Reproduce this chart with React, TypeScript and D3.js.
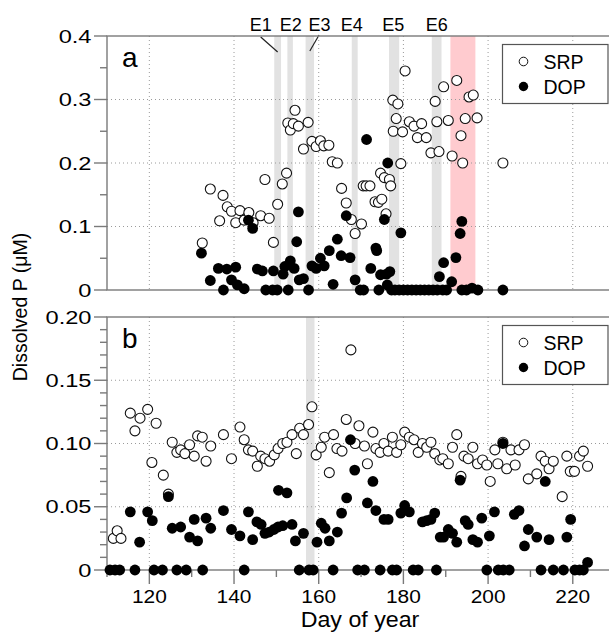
import React from 'react';
import * as d3 from 'd3';

// panel a: [day of year, µM]
const srpA: [number, number][] = [
  [132.5, 0.074], [134.4, 0.159], [136.6, 0.109], [137.4, 0.149], [138.4, 0.131], [139.4, 0.124],
  [140.4, 0.106], [141.4, 0.125], [142.4, 0.110], [143.5, 0.122], [144.5, 0.106], [146.3, 0.117],
  [147.3, 0.174], [148.3, 0.113], [149.3, 0.075], [150.3, 0.135], [151.4, 0.167], [152.4, 0.184],
  [152.7, 0.263], [153.3, 0.252], [154.0, 0.262], [154.4, 0.283], [155.2, 0.258], [156.4, 0.222],
  [157.5, 0.264], [158.4, 0.234], [159.4, 0.226], [160.4, 0.235], [161.2, 0.227], [162.4, 0.228],
  [163.2, 0.202], [164.4, 0.200], [165.4, 0.160], [166.5, 0.137], [167.7, 0.111], [168.6, 0.089],
  [170.1, 0.104], [170.5, 0.164], [171.2, 0.164], [172.1, 0.164], [173.3, 0.139], [174.1, 0.138],
  [174.6, 0.184], [174.9, 0.143], [175.5, 0.177], [175.9, 0.120], [176.7, 0.174], [177.0, 0.164],
  [177.5, 0.299], [177.6, 0.250], [178.3, 0.270], [178.7, 0.293], [179.4, 0.199], [179.8, 0.249],
  [180.4, 0.345], [181.4, 0.265], [182.5, 0.258], [183.3, 0.240], [184.3, 0.262], [185.4, 0.240],
  [186.5, 0.216], [187.5, 0.297], [187.9, 0.265], [188.4, 0.218], [189.5, 0.320], [190.6, 0.267],
  [191.5, 0.211], [192.6, 0.330], [193.6, 0.243], [194.0, 0.200], [194.6, 0.270], [195.5, 0.304],
  [196.5, 0.307], [197.4, 0.271], [203.5, 0.200],
];

const dopA: [number, number][] = [
  [132.3, 0.058], [134.4, 0.015], [136.3, 0.034], [137.5, 0], [138.3, 0.033], [139.4, 0.016],
  [140.4, 0.036], [140.8, 0.008], [142.4, 0.002], [143.4, 0.110], [144.4, 0.097], [145.5, 0.033],
  [146.7, 0.030], [147.5, 0], [149.1, 0], [149.3, 0.030], [150.2, 0], [151.6, 0.025], [152.0, 0.037],
  [152.8, 0], [153.3, 0.046], [154.2, 0.034], [154.8, 0.076], [155.2, 0.123], [155.4, 0.016],
  [156.4, 0.018], [157.6, 0], [158.4, 0.038], [159.4, 0.034], [160.4, 0.050], [161.3, 0.038],
  [162.5, 0.062], [163.4, 0.009], [164.4, 0.080], [165.3, 0.054], [166.5, 0.117], [167.4, 0.051],
  [168.6, 0.016], [169.8, 0], [170.6, 0], [171.3, 0.237], [172.3, 0.034], [173.5, 0.066],
  [173.7, 0.062], [174.2, 0], [174.6, 0.024], [175.5, 0.111], [176.0, 0.025], [176.2, 0.008],
  [176.3, 0.200], [176.8, 0.029], [177.2, 0], [178.0, 0], [179.0, 0], [179.4, 0.090], [180.0, 0],
  [181.0, 0], [182.0, 0], [183.0, 0], [184.0, 0], [185.0, 0], [186.0, 0], [187.0, 0], [188.0, 0],
  [188.5, 0.021], [189.3, 0], [189.5, 0.043], [190.2, 0], [191.4, 0.013], [192.4, 0.051],
  [193.4, 0.089], [193.8, 0.108], [193.8, 0], [194.9, 0], [196.2, 0.003], [197.6, 0], [203.5, 0],
];

// panel b
const srpB: [number, number][] = [
  [111.5, 0.025], [112.4, 0.031], [113.3, 0.025], [115.5, 0.124], [116.6, 0.110], [117.8, 0.120],
  [119.6, 0.127], [120.6, 0.085], [121.6, 0.116], [123.3, 0.075], [124.5, 0.060], [125.4, 0.101],
  [126.5, 0.093], [127.4, 0.095], [128.4, 0.092], [129.5, 0.099], [130.6, 0.090], [131.4, 0.106],
  [132.5, 0.105], [133.4, 0.086], [134.5, 0.098], [137.5, 0.107], [139.4, 0.088], [141.4, 0.113],
  [142.4, 0.103], [143.4, 0.095], [144.4, 0.094], [145.5, 0.082], [146.3, 0.090], [147.3, 0.088],
  [148.4, 0.086], [149.5, 0.091], [150.4, 0.096], [151.5, 0.100], [152.5, 0.101], [153.7, 0.107],
  [154.7, 0.092], [155.5, 0.112], [156.4, 0.107], [157.6, 0.115], [158.4, 0.129], [159.4, 0.091],
  [160.6, 0.097], [161.4, 0.105], [162.5, 0.077], [163.5, 0.107], [164.3, 0.096], [165.5, 0.094],
  [166.5, 0.119], [167.6, 0.174], [168.6, 0.100], [169.5, 0.114], [170.8, 0.098], [171.5, 0.084],
  [172.8, 0.109], [173.5, 0.096], [174.5, 0.093], [175.4, 0.100], [176.4, 0.094], [177.4, 0.105],
  [178.4, 0.093], [179.4, 0.099], [180.3, 0.109], [181.4, 0.105], [182.5, 0.103], [183.5, 0.093],
  [184.5, 0.100], [185.5, 0.097], [186.5, 0.101], [187.4, 0.092], [188.6, 0.087], [189.3, 0.088],
  [190.6, 0.084], [191.6, 0.097], [192.6, 0.107], [193.6, 0.074], [194.3, 0.090], [195.3, 0.088],
  [196.4, 0.097], [197.5, 0.084], [198.7, 0.087], [199.7, 0.083], [200.5, 0.070], [201.6, 0.095],
  [202.3, 0.084], [203.5, 0.101], [204.4, 0.080], [205.4, 0.095], [206.4, 0.083], [207.3, 0.095],
  [208.6, 0.099], [209.5, 0.072], [211.5, 0.076], [212.5, 0.090], [213.5, 0.086], [214.4, 0.080],
  [215.4, 0.086], [217.5, 0.058], [218.6, 0.090], [219.4, 0.078], [220.4, 0.078], [221.6, 0.090],
  [222.5, 0.094], [223.5, 0.082],
];

const dopB: [number, number][] = [
  [110.7, 0], [111.9, 0], [113.0, 0], [116.6, 0], [121.1, 0], [123.1, 0], [126.5, 0], [128.7, 0],
  [132.6, 0], [142.4, 0], [155.4, 0], [157.7, 0], [158.7, 0], [163.4, 0], [169.2, 0], [170.8, 0],
  [174.5, 0], [177.4, 0], [178.4, 0], [182.3, 0], [183.5, 0], [187.8, 0], [199.7, 0], [202.4, 0],
  [203.6, 0], [205.0, 0], [212.5, 0], [215.4, 0], [217.8, 0], [220.5, 0], [221.6, 0], [222.5, 0],
  [115.5, 0.046], [117.7, 0.022], [119.6, 0.046], [120.7, 0.039], [124.5, 0.058], [125.4, 0.033],
  [127.4, 0.034], [129.5, 0.026], [130.6, 0.040], [131.4, 0.023], [133.4, 0.041], [134.5, 0.033],
  [137.5, 0.047], [139.4, 0.032], [141.4, 0.027], [143.4, 0.046], [144.4, 0.024], [145.4, 0.038],
  [146.4, 0.036], [147.3, 0.029], [148.3, 0.030], [149.4, 0.032], [150.4, 0.034], [150.5, 0.063],
  [151.5, 0.035], [152.5, 0.061], [153.7, 0.036], [154.5, 0.023], [156.4, 0.029], [159.6, 0.022],
  [160.6, 0.037], [161.5, 0.033], [162.5, 0.023], [164.4, 0.030], [165.4, 0.045], [166.6, 0.057],
  [167.5, 0.103], [168.5, 0.079], [171.5, 0.053], [172.8, 0.070], [173.5, 0.047], [175.4, 0.040],
  [176.4, 0.040], [179.4, 0.045], [180.3, 0.051], [181.4, 0.046], [184.5, 0.038], [185.5, 0.039],
  [186.5, 0.040], [187.4, 0.045], [188.7, 0.026], [189.5, 0.026], [190.6, 0.032], [191.6, 0.029],
  [192.6, 0.022], [193.4, 0.071], [194.6, 0.039], [195.3, 0.036], [196.4, 0.024], [197.5, 0.022],
  [198.5, 0.041], [200.3, 0.027], [201.5, 0.046], [203.5, 0.100], [206.2, 0.044], [207.3, 0.047],
  [208.6, 0.019], [209.5, 0.032], [211.5, 0.026], [213.5, 0.070], [214.4, 0.024], [218.6, 0.026],
  [219.5, 0.040], [223.5, 0.006],
];

// events: [label, band start, band end, label day]
const events: [string, number, number, number][] = [
  ['E1', 149.5, 151.1, 146.3],
  ['E2', 152.6, 153.9, 153.4],
  ['E3', 156.9, 158.9, 160.2],
  ['E4', 167.8, 169.2, 167.8],
  ['E5', 176.6, 179.0, 177.6],
  ['E6', 186.7, 189.0, 187.9],
];
const pinkBand: [number, number] = [191.1, 197.0];
const bandB: [number, number] = [157.0, 159.0];

const xTicks = [120, 140, 160, 180, 200, 220];
const xMinor = [110, 130, 150, 170, 190, 210];
const yTicksA = [0, 0.1, 0.2, 0.3, 0.4];
const yTicksB = [0, 0.05, 0.1, 0.15, 0.2];

const W = 609;
const H = 636;
const FONT = '"Liberation Sans", Arial, Helvetica, sans-serif';
const AXIS = '#7a7a7a';

const x = d3.scaleLinear().domain([110, 229.5]).range([107, 613]);
const yA = d3.scaleLinear().domain([0, 0.4]).range([290, 36]);
const yB = d3.scaleLinear().domain([0, 0.2]).range([570, 317]);

type Scale = d3.ScaleLinear<number, number>;

const Panel = ({ y, ticks, fmt, minorStep, srp, dop, letter, showX }: {
  y: Scale; ticks: number[]; fmt: (v: number) => string; minorStep: number;
  srp: [number, number][]; dop: [number, number][]; letter: string; showX: boolean;
}) => {
  const [y0, y1] = y.range();
  const [x0, x1] = x.range();
  const [d0, d1] = y.domain();
  const minor = d3.range(d0, d1 + 1e-9, minorStep).filter(
    (v) => !ticks.some((t) => Math.abs(t - v) < 1e-6)
  );
  const gridY = ticks.filter((t) => t > d0 && t < d1);
  return (
    <g>
      {/* grid */}
      {xTicks.map((t) => (
        <line key={'gx' + t} x1={x(t)} x2={x(t)} y1={y1} y2={y0}
          stroke="#9a9a9a" strokeWidth={1} strokeDasharray="1,3" />
      ))}
      {gridY.map((t) => (
        <line key={'gy' + t} x1={x0} x2={x1} y1={y(t)} y2={y(t)}
          stroke="#9a9a9a" strokeWidth={1} strokeDasharray="1,3" />
      ))}
      {/* frame */}
      <rect x={x0} y={y1} width={x1 - x0} height={y0 - y1} fill="none" stroke={AXIS} strokeWidth={1.4} />
      {ticks.map((t) => (
        <g key={'yt' + t}>
          <line x1={x0 - 13} x2={x0} y1={y(t)} y2={y(t)} stroke={AXIS} strokeWidth={1.4} />
          <text transform={`translate(${x0 - 15.5},${y(t)}) scale(1.35,1)`} dy="0.38em" textAnchor="end"
            fontSize={17.5} fontFamily={FONT}>{fmt(t)}</text>
        </g>
      ))}
      {minor.map((t) => (
        <line key={'ym' + t} x1={x0 - 7} x2={x0} y1={y(t)} y2={y(t)} stroke={AXIS} strokeWidth={1.4} />
      ))}
      {showX && xTicks.map((t) => (
        <g key={'xt' + t}>
          <line x1={x(t)} x2={x(t)} y1={y0} y2={y0 + 14} stroke={AXIS} strokeWidth={1.4} />
          <text transform={`translate(${x(t)},${y0 + 33}) scale(1.1,1)`} textAnchor="middle"
            fontSize={19} fontFamily={FONT}>{t}</text>
        </g>
      ))}
      {showX && xMinor.map((t) => (
        <line key={'xm' + t} x1={x(t)} x2={x(t)} y1={y0} y2={y0 + 7} stroke={AXIS} strokeWidth={1.4} />
      ))}
      {/* points */}
      {srp.map(([d, v], i) => (
        <circle key={'s' + i} cx={x(d)} cy={y(v)} r={5} fill="#fff" stroke="#111" strokeWidth={1.1} />
      ))}
      {dop.map(([d, v], i) => (
        <circle key={'d' + i} cx={x(d)} cy={y(v)} r={5.4} fill="#000" />
      ))}
      <text x={122} y={y1 + 31} fontSize={28} fontFamily={FONT}>{letter}</text>
      {/* legend */}
      <g transform={`translate(502.5,${y1 + 8.5})`}>
        <rect x={0} y={0} width={105.5} height={59} fill="#fff" stroke="#555" strokeWidth={1.2} />
        <circle cx={21} cy={17} r={4.3} fill="#fff" stroke="#111" strokeWidth={1} />
        <circle cx={21} cy={42} r={4.7} fill="#000" />
        <text x={41} y={24} fontSize={19.5} fontFamily={FONT}>SRP</text>
        <text x={41} y={49} fontSize={19.5} fontFamily={FONT}>DOP</text>
      </g>
    </g>
  );
};

export default function App() {
  const [a0, a1] = yA.range();
  const [b0, b1] = yB.range();
  return (
    <svg width={W} height={H} style={{ position: 'absolute', left: 0, top: 0, background: '#fff' }}>
      {/* event bands, panel a */}
      {events.map(([name, s, e]) => (
        <rect key={name} x={x(s)} y={a1} width={x(e) - x(s)} height={a0 - a1} fill="#e2e2e2" />
      ))}
      <rect x={x(pinkBand[0])} y={a1} width={x(pinkBand[1]) - x(pinkBand[0])} height={a0 - a1} fill="#ffcbcf" />
      <rect x={x(bandB[0])} y={b1} width={x(bandB[1]) - x(bandB[0])} height={b0 - b1} fill="#e2e2e2" />
      {events.map(([name, , , ld]) => (
        <text key={'l' + name} x={x(ld)} y={31} textAnchor="middle" fontSize={18} fontFamily={FONT}>{name}</text>
      ))}
      {/* leader lines for E1 and E3 */}
      <line x1={x(events[0][3])} y1={37} x2={x((events[0][1] + events[0][2]) / 2)} y2={52} stroke="#222" strokeWidth={1.2} />
      <line x1={x(events[2][3]) - 0.5} y1={35} x2={x((events[2][1] + events[2][2]) / 2)} y2={51} stroke="#222" strokeWidth={1.2} />
      <Panel y={yA} ticks={yTicksA} fmt={(v) => (v === 0 ? '0' : d3.format('.1f')(v))} minorStep={0.05}
        srp={srpA} dop={dopA} letter="a" showX={false} />
      <Panel y={yB} ticks={yTicksB} fmt={(v) => (v === 0 ? '0' : d3.format('.2f')(v))} minorStep={0.01}
        srp={srpB} dop={dopB} letter="b" showX={true} />
      <text transform="translate(27,307) rotate(-90)" textAnchor="middle" fontSize={19.5} fontFamily={FONT}>Dissolved P (μM)</text>
      <text transform="translate(360,627) scale(1.08,1)" textAnchor="middle" fontSize={21.5} fontFamily={FONT}>Day of year</text>
    </svg>
  );
}
